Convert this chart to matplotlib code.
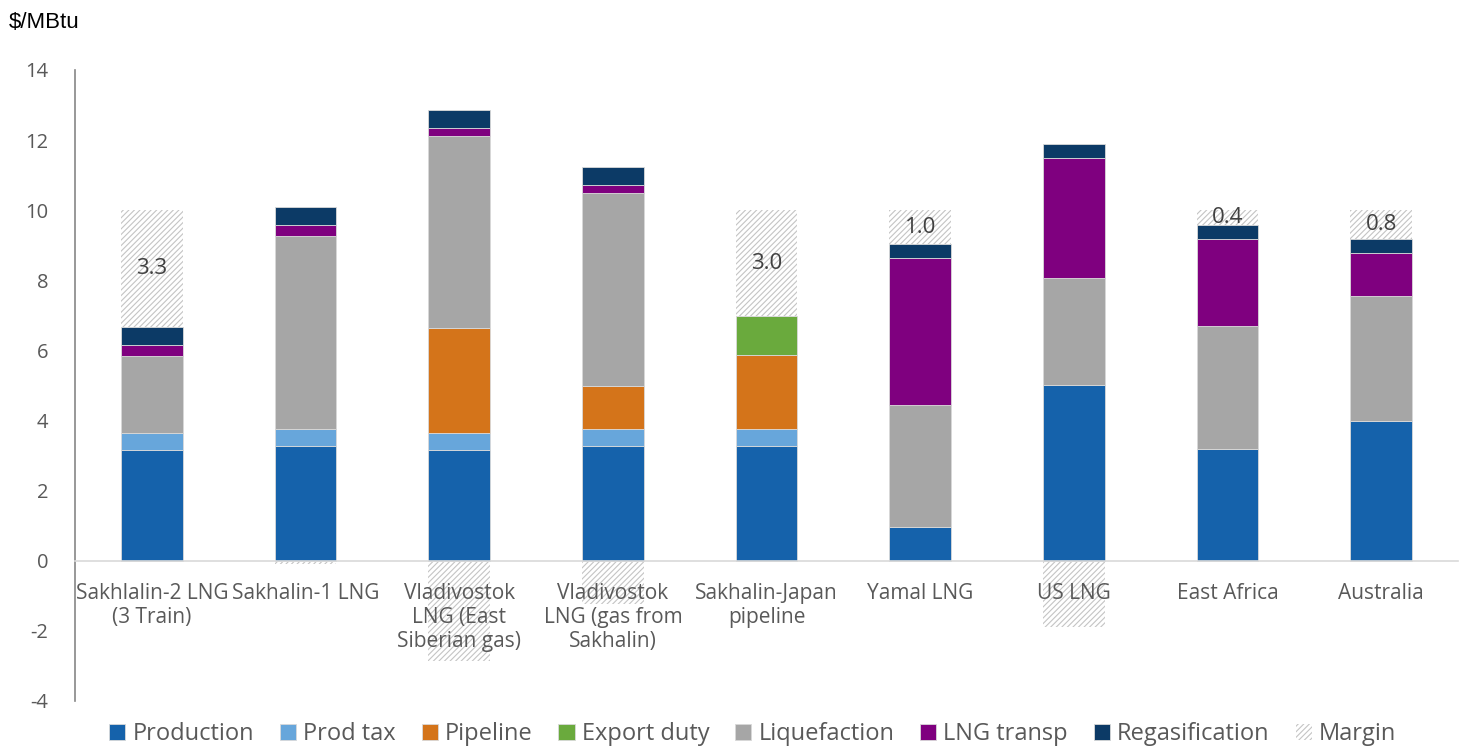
import matplotlib.pyplot as plt
import numpy as np

plt.rcParams['font.family'] = ['Open Sans', 'DejaVu Sans']
plt.rcParams['hatch.linewidth'] = 0.8
plt.rcParams['axes.unicode_minus'] = False

categories = ['Sakhlalin-2 LNG\n(3 Train)', 'Sakhalin-1 LNG', 'Vladivostok\nLNG (East\nSiberian gas)',
              'Vladivostok\nLNG (gas from\nSakhalin)', 'Sakhalin-Japan\npipeline', 'Yamal LNG',
              'US LNG', 'East Africa', 'Australia']
production = [3.15, 3.28, 3.15, 3.28, 3.28, 0.95, 5.02, 3.20, 4.00]
prod_tax = [0.50, 0.48, 0.50, 0.48, 0.48, 0, 0, 0, 0]
pipeline = [0, 0, 3.00, 1.22, 2.10, 0, 0, 0, 0]
export_duty = [0, 0, 0, 0, 1.12, 0, 0, 0, 0]
liquefaction = [2.20, 5.50, 5.47, 5.50, 0, 3.50, 3.05, 3.50, 3.54]
lng_transp = [0.31, 0.31, 0.23, 0.23, 0, 4.19, 3.42, 2.48, 1.25]
regas = [0.51, 0.51, 0.51, 0.51, 0, 0.40, 0.40, 0.40, 0.40]
margin = [3.33, -0.09, -2.86, -1.22, 3.02, 0.96, -1.89, 0.42, 0.82]

series = [('Production', production, '#1562ab'),
          ('Prod tax', prod_tax, '#67a6db'),
          ('Pipeline', pipeline, '#d4741a'),
          ('Export duty', export_duty, '#6aaa3d'),
          ('Liquefaction', liquefaction, '#a6a6a6'),
          ('LNG transp', lng_transp, '#7f007f'),
          ('Regasification', regas, '#0c3a66')]

fig = plt.figure(figsize=(14.67, 7.47), dpi=100)
ax = fig.add_axes([0.0511, 0.0616, 0.9428, 0.8447])

x = np.arange(len(categories))
w = 0.4
bottom = np.zeros(len(categories))
for name, vals, col in series:
    vals = np.array(vals, dtype=float)
    ax.bar(x, vals, w, bottom=bottom, color=col, edgecolor='#d9d9d9', linewidth=0.6, label=name, zorder=3)
    bottom += vals

# margin: on top if positive, below zero if negative
m = np.array(margin)
mbottom = np.where(m > 0, bottom, 0)
ax.bar(x, m, w, bottom=mbottom, facecolor='none', edgecolor='#c4c4c4', linewidth=0,
       hatch='//////', label='Margin', zorder=1)
for xi, mv, b in zip(x, m, mbottom):
    if mv > 0.2:
        ax.text(xi, b + mv / 2, f'{mv:.1f}', ha='center', va='center', fontsize=16, color='#404040', zorder=4)

ax.set_xlim(-0.5, len(categories) - 0.5)
ax.set_ylim(-4, 14)
ax.set_yticks(range(-4, 15, 2))
ax.set_xticks(x)
ax.set_xticklabels(categories)
ax.tick_params(axis='both', length=0, colors='#595959')
ax.tick_params(axis='y', pad=19, labelsize=14.5)
ax.tick_params(axis='x', pad=16, labelsize=15)
for lbl in ax.get_xticklabels():
    lbl.set_linespacing(1.75)
for s in ['top', 'right']:
    ax.spines[s].set_visible(False)
ax.spines['bottom'].set_position(('data', 0))
ax.spines['bottom'].set_color('#d9d9d9')
ax.spines['bottom'].set_linewidth(1.2)
ax.spines['bottom'].set_zorder(5)
ax.spines['left'].set_color('#868686')
ax.spines['left'].set_linewidth(1.2)

fig.text(0.006, 0.97, '$/MBtu', fontsize=16, family='Liberation Sans', va='center', ha='left')

leg = fig.legend(loc='center', bbox_to_anchor=(0.513, 0.017), ncol=8, frameon=False,
                 fontsize=17, handlelength=0.68, handleheight=0.68, handletextpad=0.3, columnspacing=1.1)
for t in leg.get_texts():
    t.set_color('#595959')

fig.savefig('out.png', dpi=100)
